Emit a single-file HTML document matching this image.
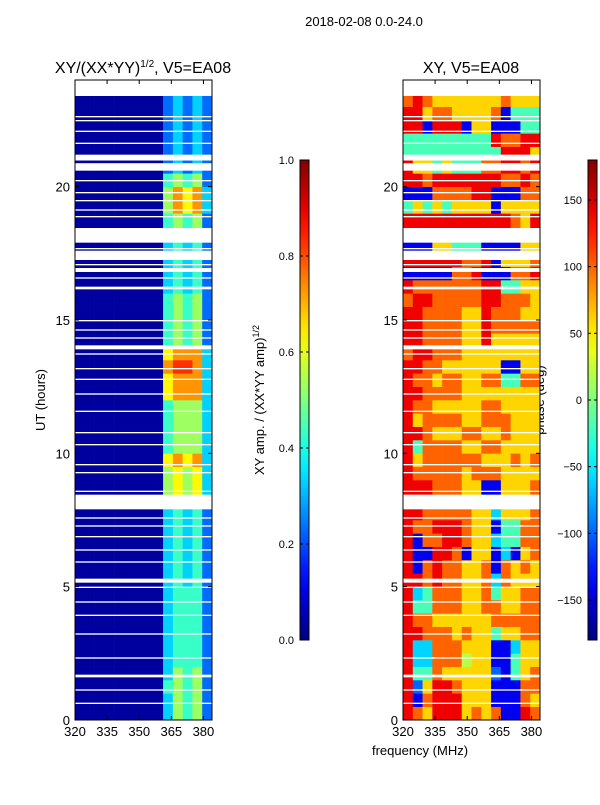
<!DOCTYPE html>
<html><head><meta charset="utf-8">
<style>
body{margin:0;background:#fff;}
svg text{font-family:"Liberation Sans",sans-serif;fill:#000;}
</style></head>
<body>
<svg id="fig" width="600" height="800" viewBox="0 0 600 800" xmlns="http://www.w3.org/2000/svg">
<defs>
<linearGradient id="jet" x1="0" y1="1" x2="0" y2="0"></linearGradient>
</defs>
<text x="364" y="26" font-size="13" text-anchor="middle">2018-02-08 0.0-24.0</text>
<text x="143" y="73" font-size="16" text-anchor="middle">XY/(XX*YY)<tspan dy="-6" font-size="10">1/2</tspan><tspan dy="6">, V5=EA08</tspan></text>
<text x="471" y="73" font-size="16" text-anchor="middle">XY, V5=EA08</text>
<text x="45" y="400" font-size="13" text-anchor="middle" transform="rotate(-90 45 400)">UT (hours)</text>
<text x="420" y="755" font-size="13" text-anchor="middle">frequency (MHz)</text>
<text x="264" y="400" font-size="13" text-anchor="middle" transform="rotate(-90 264 400)">XY amp. / (XX*YY amp)<tspan dy="-5" font-size="9">1/2</tspan></text>
<text x="544" y="400" font-size="13" text-anchor="middle" transform="rotate(-90 544 400)">phase (deg)</text>
<g id="ampPanel"></g>
<g id="phasePanel"></g>
<g id="axes"></g>
</svg>
<script>
// ---- data ----
const freqStart = 320, freqEnd = 384, nFreq = 14;
const rowHours = 0.5, dataTop = 23.4;
const yTicks = [0,5,10,15,20];
const xTicks = [320,335,350,365,380];
const ampTicks = [0.0,0.2,0.4,0.6,0.8,1.0];
const phaseTicks = [-150,-100,-50,0,50,100,150];
// amplitude rows from 0h upward, digit d -> 0.1*d+0.03
const ampRows = [
"00000000035452","00000000035452","00000000045452","00000000035452",
"00000000034442","00000000034442","00000000034442","00000000034442","00000000034442","00000000034442",
"00000000034342","00000000034342","00000000034342","00000000034342","00000000034342",
"00000000034342","00000000056563","00000000056563","00000000056563","00000000067673",
"00000000045553","00000000045553","00000000045553","00000000045553",
"00000000067773","00000000067773","00000000078873","00000000067773",
"00000000045452","00000000045452","00000000045452","00000000045452",
"00000000034342","00000000034342","00000000034342","00000000034342",
"00000000045452","00000000045452","00000000057673","00000000057673","00000000045452",
"00000000023232","00000000023232","00000000023232","00000000023232","00000000023232","00000000023232"
];
// phase rows from 0h upward, digit d -> -180 + 40*d
const phaseRows = [
"87688867671187","81788866611176","82688766611177","84476666621467","83377756611466",
"83377766611366","88777676646677","87766666677777","84477766776677","83477766746677",
"88787766737666","81787766717676","81188716613167","81778876634477","87788876614477",
"88777776636667","88877766116667","88877766116667","87777767776666","86777777666767",
"84777766776666","88766677667666","86777766777666","87766666776666","88777766666666",
"87767766774477","88776666661166","78877766666666","88777766866666","88777766877777",
"88777766877766","78877777887776","87777777884466","11111778111778","88888877816667",
"11166444111166","88888888888768","88888888888768","46464666616666","11177778811177",
"88788888887787","86646444778878","44444444448886","44444444487788","88188816611144",
"88677666671444","78766666667666"
];
// flagged (white) time ranges in hours
const gaps = [[22.6,22.65],[22.45,22.5],[22.05,22.1],[21.6,21.65],[20.98,21.2],[20.6,20.88],[20.2,20.25],
[19.75,19.8],[19.45,19.5],[19.1,19.15],[18.85,18.9],[17.9,18.45],[17.65,17.7],[17.25,17.6],[17.05,17.1],
[16.8,16.95],[16.55,16.6],[16.15,16.25],[14.95,15.0],[14.6,14.65],[14.3,14.35],[13.9,14.05],[13.7,13.75],
[13.15,13.2],[12.75,12.8],[12.2,12.25],[11.55,11.6],[10.75,10.8],[10.3,10.35],[9.55,9.6],[9.25,9.3],
[8.55,8.6],[7.9,8.45],[7.55,7.6],[7.25,7.3],[6.85,6.9],[6.35,6.4],[5.9,5.95],[5.15,5.3],[4.95,5.0],
[4.4,4.45],[3.9,3.95],[3.2,3.25],[2.3,2.35],[1.6,1.7],[1.1,1.15],[0.6,0.65]];

// ---- layout ----
const NS="http://www.w3.org/2000/svg";
const T=80,B=720;
const yS = h => B - (h/24)*(B-T);
function jet(x){x=Math.max(0,Math.min(1,x));
 const c=v=>Math.round(255*Math.max(0,Math.min(1,v)));
 return `rgb(${c(1.5-Math.abs(4*x-3))},${c(1.5-Math.abs(4*x-2))},${c(1.5-Math.abs(4*x-1))})`;}
function mk(tag,attrs,parent){const e=document.createElementNS(NS,tag);for(const k in attrs)e.setAttribute(k,attrs[k]);parent.appendChild(e);return e;}

function drawPanel(g,L,R,rows,valFn){
 const xS=f=>L+(f-freqStart)/(freqEnd-freqStart)*(R-L);
 const df=(freqEnd-freqStart)/nFreq;
 rows.forEach((row,i)=>{
  const h0=i*rowHours,h1=Math.min(dataTop,(i+1)*rowHours);
  for(let j=0;j<nFreq;j++){
   const x0=xS(freqStart+j*df),x1=xS(freqStart+(j+1)*df);
   const r=mk('rect',{x:x0,y:yS(h1),width:x1-x0+0.3,height:yS(h0)-yS(h1)+0.3,fill:jet(valFn(+row[j]))},g);
   
   
  }
 });
 gaps.forEach(gp=>{
  const r=mk('rect',{x:L,y:yS(gp[1]),width:R-L,height:yS(gp[0])-yS(gp[1]),fill:'#fff'},g);
  
  
 });
 const ax=document.getElementById('axes');
 const fr=mk('rect',{x:L,y:T,width:R-L,height:B-T,fill:'none',stroke:'#000','stroke-width':1},ax);
 
 
 yTicks.forEach(t=>{const y=yS(t);
  mk('line',{x1:L,x2:L+4,y1:y,y2:y,stroke:'#000'},ax);mk('line',{x1:R-4,x2:R,y1:y,y2:y,stroke:'#000'},ax);
  const tx=mk('text',{x:L-5,y:y+5,'font-size':13,'text-anchor':'end'},ax);tx.textContent=t;
  
  });
 xTicks.forEach(t=>{const x=xS(t);
  mk('line',{x1:x,x2:x,y1:B,y2:B-4,stroke:'#000'},ax);mk('line',{x1:x,x2:x,y1:T,y2:T+4,stroke:'#000'},ax);
  const tx=mk('text',{x:x,y:B+16,'font-size':13,'text-anchor':'middle'},ax);tx.textContent=t;
  
  });
}
drawPanel(document.getElementById('ampPanel'),75,212,ampRows,d=>d*0.1+0.03);
drawPanel(document.getElementById('phasePanel'),403,540,phaseRows,d=>(-180+40*d+180)/360);

// colorbars
const grad=document.getElementById('jet');
for(let i=0;i<=20;i++){mk('stop',{offset:i/20,'stop-color':jet(i/20)},grad);}
function colorbar(x,lo,hi,ticks,fmt,name){
 const ax=document.getElementById('axes');const top=160,bot=640,w=9;
 const r=mk('rect',{x:x,y:top,width:w,height:bot-top,fill:'url(#jet)',stroke:'#000','stroke-width':1},ax);
 
 
 ticks.forEach(t=>{const y=bot-(t-lo)/(hi-lo)*(bot-top);
  mk('line',{x1:x,x2:x+3,y1:y,y2:y,stroke:'#000'},ax);mk('line',{x1:x+w-3,x2:x+w,y1:y,y2:y,stroke:'#000'},ax);
  const tx=mk('text',{x:x-6,y:y+4,'font-size':11,'text-anchor':'end'},ax);tx.textContent=fmt(t);
  
  });
}
colorbar(300,0,1,ampTicks,t=>t.toFixed(1),'amplitude-colorbar');
colorbar(588,-180,180,phaseTicks,t=>t<0?'\u2212'+(-t):''+t,'phase-colorbar');
</script>
</body></html>
